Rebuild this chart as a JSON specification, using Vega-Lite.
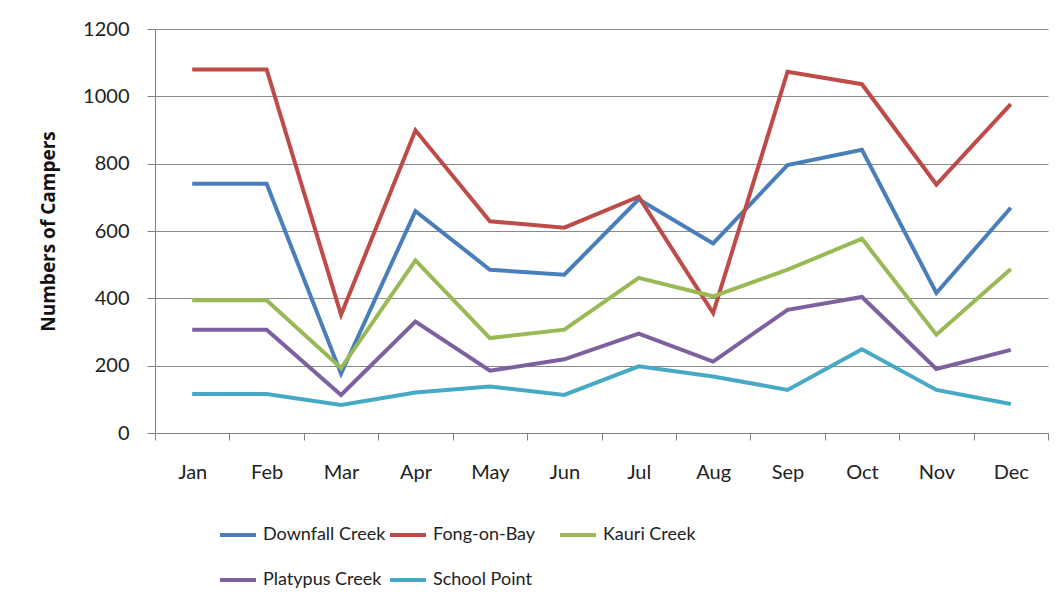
{
  "$schema": "https://vega.github.io/schema/vega-lite/v6.json",
  "width": 893,
  "height": 404,
  "autosize": {"type": "none"},
  "padding": {"left": 155, "top": 29, "right": 13, "bottom": 169},
  "background": "white",
  "config": {
    "view": {"stroke": null},
    "font": "Lato"
  },
  "data": {
    "values": [
      {"month": "Jan", "site": "Downfall Creek", "campers": 740},
      {"month": "Feb", "site": "Downfall Creek", "campers": 740},
      {"month": "Mar", "site": "Downfall Creek", "campers": 176},
      {"month": "Apr", "site": "Downfall Creek", "campers": 659},
      {"month": "May", "site": "Downfall Creek", "campers": 485},
      {"month": "Jun", "site": "Downfall Creek", "campers": 470},
      {"month": "Jul", "site": "Downfall Creek", "campers": 694},
      {"month": "Aug", "site": "Downfall Creek", "campers": 563},
      {"month": "Sep", "site": "Downfall Creek", "campers": 796},
      {"month": "Oct", "site": "Downfall Creek", "campers": 841},
      {"month": "Nov", "site": "Downfall Creek", "campers": 416},
      {"month": "Dec", "site": "Downfall Creek", "campers": 669},
      {"month": "Jan", "site": "Fong-on-Bay", "campers": 1080},
      {"month": "Feb", "site": "Fong-on-Bay", "campers": 1080},
      {"month": "Mar", "site": "Fong-on-Bay", "campers": 351},
      {"month": "Apr", "site": "Fong-on-Bay", "campers": 899},
      {"month": "May", "site": "Fong-on-Bay", "campers": 629},
      {"month": "Jun", "site": "Fong-on-Bay", "campers": 610},
      {"month": "Jul", "site": "Fong-on-Bay", "campers": 702},
      {"month": "Aug", "site": "Fong-on-Bay", "campers": 356},
      {"month": "Sep", "site": "Fong-on-Bay", "campers": 1073},
      {"month": "Oct", "site": "Fong-on-Bay", "campers": 1036},
      {"month": "Nov", "site": "Fong-on-Bay", "campers": 738},
      {"month": "Dec", "site": "Fong-on-Bay", "campers": 977},
      {"month": "Jan", "site": "Kauri Creek", "campers": 394},
      {"month": "Feb", "site": "Kauri Creek", "campers": 394},
      {"month": "Mar", "site": "Kauri Creek", "campers": 193},
      {"month": "Apr", "site": "Kauri Creek", "campers": 513},
      {"month": "May", "site": "Kauri Creek", "campers": 282},
      {"month": "Jun", "site": "Kauri Creek", "campers": 307},
      {"month": "Jul", "site": "Kauri Creek", "campers": 461},
      {"month": "Aug", "site": "Kauri Creek", "campers": 406},
      {"month": "Sep", "site": "Kauri Creek", "campers": 485},
      {"month": "Oct", "site": "Kauri Creek", "campers": 577},
      {"month": "Nov", "site": "Kauri Creek", "campers": 292},
      {"month": "Dec", "site": "Kauri Creek", "campers": 487},
      {"month": "Jan", "site": "Platypus Creek", "campers": 307},
      {"month": "Feb", "site": "Platypus Creek", "campers": 307},
      {"month": "Mar", "site": "Platypus Creek", "campers": 113},
      {"month": "Apr", "site": "Platypus Creek", "campers": 331},
      {"month": "May", "site": "Platypus Creek", "campers": 185},
      {"month": "Jun", "site": "Platypus Creek", "campers": 219},
      {"month": "Jul", "site": "Platypus Creek", "campers": 295},
      {"month": "Aug", "site": "Platypus Creek", "campers": 212},
      {"month": "Sep", "site": "Platypus Creek", "campers": 366},
      {"month": "Oct", "site": "Platypus Creek", "campers": 404},
      {"month": "Nov", "site": "Platypus Creek", "campers": 190},
      {"month": "Dec", "site": "Platypus Creek", "campers": 247},
      {"month": "Jan", "site": "School Point", "campers": 116},
      {"month": "Feb", "site": "School Point", "campers": 116},
      {"month": "Mar", "site": "School Point", "campers": 83},
      {"month": "Apr", "site": "School Point", "campers": 120},
      {"month": "May", "site": "School Point", "campers": 138},
      {"month": "Jun", "site": "School Point", "campers": 113},
      {"month": "Jul", "site": "School Point", "campers": 198},
      {"month": "Aug", "site": "School Point", "campers": 168},
      {"month": "Sep", "site": "School Point", "campers": 128},
      {"month": "Oct", "site": "School Point", "campers": 249},
      {"month": "Nov", "site": "School Point", "campers": 128},
      {"month": "Dec", "site": "School Point", "campers": 86}
    ]
  },
  "mark": {"type": "line", "strokeWidth": 4, "strokeJoin": "miter", "strokeCap": "butt"},
  "encoding": {
    "x": {
      "field": "month",
      "type": "nominal",
      "sort": ["Jan", "Feb", "Mar", "Apr", "May", "Jun", "Jul", "Aug", "Sep", "Oct", "Nov", "Dec"],
      "scale": {"type": "band", "paddingInner": 0, "paddingOuter": 0},
      "axis": {
        "title": null,
        "labelAngle": 0,
        "labelFontSize": 20,
        "labelColor": "#222222",
        "labelPadding": 22,
        "tickBand": "extent",
        "ticks": true,
        "tickSize": 7,
        "tickColor": "#808080",
        "domainColor": "#808080",
        "grid": false
      }
    },
    "y": {
      "field": "campers",
      "type": "quantitative",
      "scale": {"domain": [0, 1200], "nice": false},
      "axis": {
        "title": "Numbers of Campers",
        "titleFont": "Open Sans",
        "titleFontSize": 19,
        "titleFontWeight": "bold",
        "titleColor": "#111111",
        "titlePadding": 24,
        "values": [0, 200, 400, 600, 800, 1000, 1200],
        "format": "d",
        "labelFontSize": 20,
        "labelColor": "#222222",
        "labelPadding": 18,
        "tickSize": 8,
        "tickColor": "#808080",
        "domainColor": "#808080",
        "gridColor": "#8a8a8a",
        "gridWidth": 1
      }
    },
    "color": {
      "field": "site",
      "type": "nominal",
      "scale": {
        "domain": ["Downfall Creek", "Fong-on-Bay", "Kauri Creek", "Platypus Creek", "School Point"],
        "range": ["#4A7EBB", "#BE4B48", "#98B954", "#7D60A0", "#46AAC5"]
      },
      "legend": {
        "title": null,
        "orient": "none",
        "legendX": 63,
        "legendY": 486,
        "direction": "horizontal",
        "columns": 3,
        "gridAlign": "all",
        "columnPadding": -4,
        "rowPadding": 16,
        "symbolType": "stroke",
        "symbolSize": 1296,
        "symbolStrokeWidth": 4,
        "labelFontSize": 18,
        "labelColor": "#222222",
        "labelOffset": 5,
        "labelLimit": 300
      }
    }
  }
}
